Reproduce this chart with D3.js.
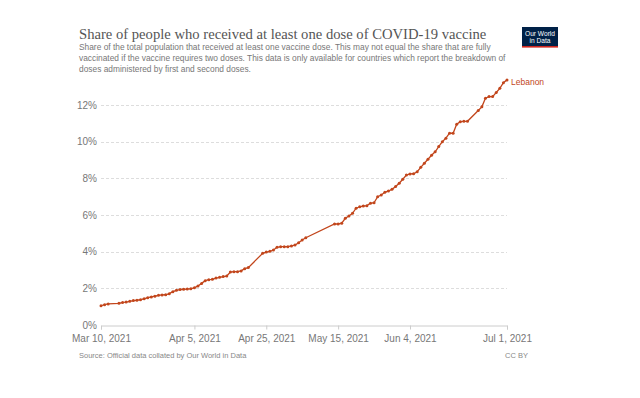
<!DOCTYPE html>
<html>
<head>
<meta charset="utf-8">
<script src="https://cdn.jsdelivr.net/npm/d3@7"></script>
<style>
  body { margin: 0; background: #fff; }
  svg { display: block; }
</style>
</head>
<body>
<div id="chart"></div>
<script>
// data (share of population, %)
const dates = [
  "2021-03-10","2021-03-11","2021-03-12","2021-03-15","2021-03-16","2021-03-17","2021-03-18","2021-03-19",
  "2021-03-20","2021-03-21","2021-03-22","2021-03-23","2021-03-24","2021-03-25","2021-03-26","2021-03-27",
  "2021-03-28","2021-03-29","2021-03-30","2021-03-31","2021-04-01","2021-04-02","2021-04-03","2021-04-04",
  "2021-04-05","2021-04-06","2021-04-07","2021-04-08","2021-04-09","2021-04-10","2021-04-11","2021-04-12",
  "2021-04-13","2021-04-14","2021-04-15","2021-04-16","2021-04-17","2021-04-18","2021-04-19","2021-04-20",
  "2021-04-24","2021-04-25","2021-04-26","2021-04-27","2021-04-28","2021-04-29","2021-04-30","2021-05-01",
  "2021-05-02","2021-05-03","2021-05-04","2021-05-05","2021-05-06",
  "2021-05-14","2021-05-15","2021-05-16","2021-05-17","2021-05-18","2021-05-19","2021-05-20","2021-05-21",
  "2021-05-22","2021-05-23","2021-05-24","2021-05-25","2021-05-26","2021-05-27","2021-05-28","2021-05-29",
  "2021-05-30","2021-05-31","2021-06-01","2021-06-02","2021-06-03","2021-06-04","2021-06-05","2021-06-06",
  "2021-06-07","2021-06-08","2021-06-09","2021-06-10","2021-06-11","2021-06-12","2021-06-13","2021-06-14",
  "2021-06-15","2021-06-16","2021-06-17","2021-06-18","2021-06-19","2021-06-20",
  "2021-06-23","2021-06-24","2021-06-25","2021-06-26","2021-06-27","2021-06-28","2021-06-29","2021-06-30",
  "2021-07-01"
];
const lebanon = [
  1.05,1.11,1.15,1.18,1.23,1.25,1.29,1.33,
  1.35,1.38,1.43,1.49,1.53,1.57,1.62,1.64,
  1.65,1.71,1.82,1.89,1.93,1.95,1.96,1.98,
  2.03,2.13,2.27,2.42,2.47,2.49,2.56,2.60,
  2.64,2.67,2.89,2.91,2.91,2.95,3.07,3.13,
  3.91,3.98,4.02,4.09,4.24,4.27,4.27,4.27,
  4.31,4.36,4.49,4.64,4.76,
  5.51,5.51,5.55,5.82,5.95,6.09,6.37,6.45,
  6.49,6.51,6.64,6.67,7.00,7.09,7.24,7.31,
  7.40,7.55,7.73,7.95,8.18,8.24,8.25,8.36,
  8.60,8.82,9.04,9.26,9.45,9.73,10.00,10.19,
  10.46,10.46,10.95,11.09,11.11,11.11,
  11.70,11.90,12.37,12.46,12.46,12.68,12.91,13.22,
  13.37
];
const yTicks = [0, 2, 4, 6, 8, 10, 12];
const xTickDates = ["2021-03-10","2021-04-05","2021-04-25","2021-05-15","2021-06-04","2021-07-01"];

const title = "Share of people who received at least one dose of COVID-19 vaccine";
const subtitle = [
  "Share of the total population that received at least one vaccine dose. This may not equal the share that are fully",
  "vaccinated if the vaccine requires two doses. This data is only available for countries which report the breakdown of",
  "doses administered by first and second doses."
];
const source = "Source: Official data collated by Our World in Data";

const width = 640, height = 398;
const margin = { left: 101, right: 133, top: 105, bottom: 73 };
const lineColor = "#c2461c";
const sans = "'Liberation Sans', Arial, sans-serif";
const parse = d3.timeParse("%Y-%m-%d");
const fmt = d3.timeFormat("%b %-d, %Y");

const data = dates.map((d, i) => ({ date: parse(d), value: lebanon[i] }));

const svg = d3.select("#chart").append("svg")
  .attr("width", width)
  .attr("height", height)
  .style("font-family", sans);

const x = d3.scaleTime()
  .domain([parse(xTickDates[0]), parse(xTickDates[xTickDates.length - 1])])
  .range([margin.left, width - margin.right]);
const y = d3.scaleLinear()
  .domain([0, 12])
  .range([height - margin.bottom, margin.top]);

// font size that makes a text as wide as the reference shows
function fitSize(sel, w) {
  const fs = parseFloat(sel.attr("font-size"));
  return fs * w / sel.node().getComputedTextLength();
}

// header
const titleText = svg.append("text")
  .attr("x", 79).attr("y", 39)
  .attr("font-family", "'Liberation Serif', 'Times New Roman', serif")
  .attr("font-size", 16)
  .attr("fill", "#555")
  .text(title);
titleText.attr("font-size", fitSize(titleText, 408));

const subLines = svg.append("g").selectAll("text")
  .data(subtitle)
  .enter().append("text")
  .attr("x", 79)
  .attr("y", (d, i) => 50 + i * 11)
  .attr("font-size", 9)
  .attr("fill", "#777")
  .text(d => d);
const subSize = fitSize(d3.select(subLines.nodes()[0]), 412);
subLines.attr("font-size", subSize);

// logo
const logo = svg.append("g").attr("transform", "translate(522,27)");
logo.append("rect").attr("width", 36).attr("height", 19).attr("fill", "#002147");
logo.append("rect").attr("y", 19).attr("width", 36).attr("height", 1.6).attr("fill", "#ce261e");
logo.append("text").attr("x", 18).attr("y", 8.5).attr("text-anchor", "middle")
  .attr("font-size", 6.6).attr("fill", "#fff").text("Our World");
logo.append("text").attr("x", 18).attr("y", 16).attr("text-anchor", "middle")
  .attr("font-size", 6.6).attr("fill", "#fff").text("in Data");

// y grid + labels
const yAxis = svg.append("g");
yAxis.selectAll("line")
  .data(yTicks.filter(d => d > 0))
  .enter().append("line")
  .attr("x1", margin.left).attr("x2", width - margin.right)
  .attr("y1", d => Math.round(y(d)) + 0.5).attr("y2", d => Math.round(y(d)) + 0.5)
  .attr("stroke", "#ddd")
  .attr("stroke-dasharray", "3,2");
yAxis.selectAll("text")
  .data(yTicks)
  .enter().append("text")
  .attr("x", margin.left - 4)
  .attr("y", d => y(d) + 3.5)
  .attr("text-anchor", "end")
  .attr("font-size", 10)
  .attr("fill", "#777")
  .text(d => d + "%");

// x axis
const xAxis = svg.append("g")
  .attr("transform", `translate(0,${Math.round(y(0)) + 0.5})`)
  .call(d3.axisBottom(x)
    .tickValues(xTickDates.map(parse))
    .tickSize(4)
    .tickFormat(fmt));
xAxis.select(".domain").attr("stroke", "#ccc");
xAxis.selectAll(".tick line").attr("stroke", "#ccc");
xAxis.selectAll(".tick text")
  .attr("fill", "#777")
  .attr("font-size", 10)
  .attr("font-family", sans)
  .attr("dy", "0.95em");

// line + points
const line = d3.line()
  .x(d => x(d.date))
  .y(d => y(d.value));
svg.append("path")
  .datum(data)
  .attr("d", line)
  .attr("fill", "none")
  .attr("stroke", lineColor)
  .attr("stroke-width", 1.3);
svg.append("g").selectAll("circle")
  .data(data)
  .enter().append("circle")
  .attr("cx", d => x(d.date))
  .attr("cy", d => y(d.value))
  .attr("r", 1.5)
  .attr("fill", lineColor);

const last = data[data.length - 1];
svg.append("text")
  .attr("x", x(last.date) + 4)
  .attr("y", y(last.value) + 5)
  .attr("font-size", 8.5)
  .attr("fill", lineColor)
  .text("Lebanon");

// footer
svg.append("text")
  .attr("x", 79).attr("y", 358)
  .attr("font-size", 7.5)
  .attr("fill", "#888")
  .text(source);
svg.append("text")
  .attr("x", 528).attr("y", 358)
  .attr("text-anchor", "end")
  .attr("font-size", 7.5)
  .attr("fill", "#888")
  .text("CC BY");
</script>
</body>
</html>
